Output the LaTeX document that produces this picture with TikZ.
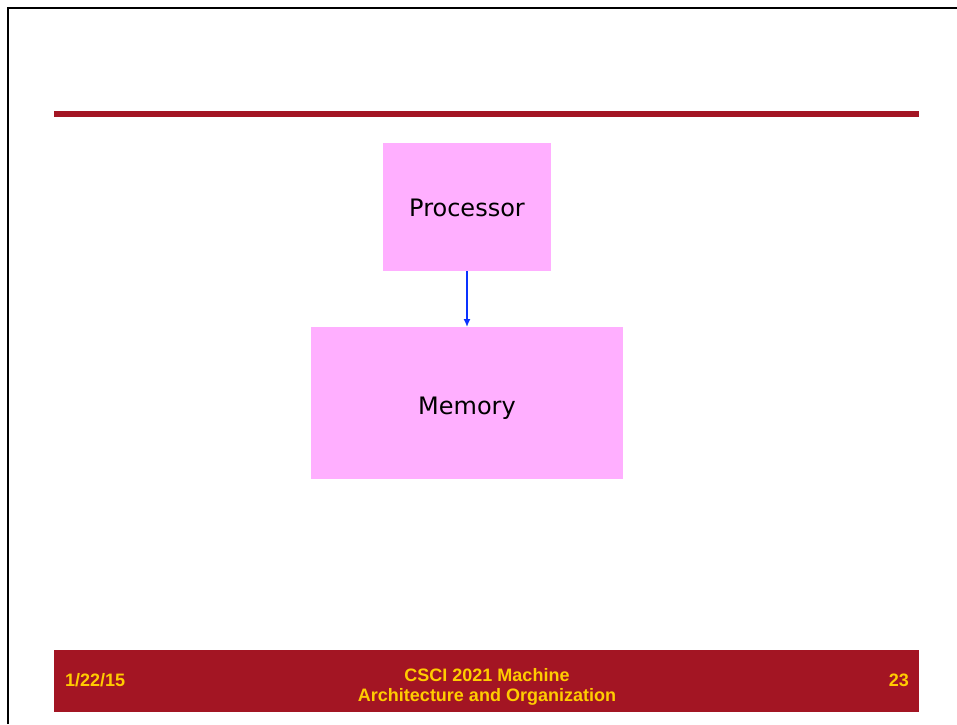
\documentclass[tikz,border=0pt]{standalone}
\usepackage{fontspec}
\setmainfont{Liberation Sans}
\newfontfamily\boxfont{DejaVu Sans}
\usetikzlibrary{arrows.meta}
\definecolor{slidered}{RGB}{163,21,35}
\definecolor{boxpink}{RGB}{255,175,255}
\definecolor{footgold}{RGB}{255,204,0}
\definecolor{linkblue}{RGB}{10,50,255}
\tikzset{
  unitbox/.style={fill=boxpink, draw=none, inner sep=0pt, outer sep=0pt,
    text height=17pt, text depth=0pt,
    font=\boxfont\fontsize{24}{28}\selectfont, text=black},
  foottext/.style={text=footgold, inner sep=0pt,
    font=\bfseries\fontsize{18}{20}\selectfont},
  link/.style={draw=linkblue, line width=1.5pt, -{Latex[length=8pt,width=7pt]}}
}
\begin{document}
\begin{tikzpicture}[x=1pt,y=-1pt]
  \useasboundingbox (0,0) rectangle (957,724);
  % slide frame edges
  \draw[line width=2pt] (7.5,724) -- (7.5,7.8) -- (957,7.8);
  % title rule
  \fill[slidered] (54,110.5) rectangle (919,116.5);
  % units
  \node[unitbox, minimum width=168pt, minimum height=128pt] (proc) at (467,207) {\raisebox{-1pt}{Processor}};
  \node[unitbox, minimum width=312pt, minimum height=152pt] (mem) at (467,403) {\raisebox{-2.8pt}{Memory}};
  \draw[link] (proc.south) -- (mem.north);
  % footer bar
  \node[fill=slidered, inner sep=0pt, outer sep=0pt, minimum width=865pt, minimum height=61.5pt] (foot) at (486.5,680.75) {};
  \node[foottext, anchor=base west] (date) at (65,686.7) {1/22/15};
  \node[foottext, anchor=base] (course1) at (487,681.7) {CSCI 2021 Machine};
  \node[foottext, anchor=base] (course2) at (487,701.7) {Architecture and Organization};
  \node[foottext, anchor=base east] (page) at (909,686.7) {23};
\end{tikzpicture}
\end{document}
